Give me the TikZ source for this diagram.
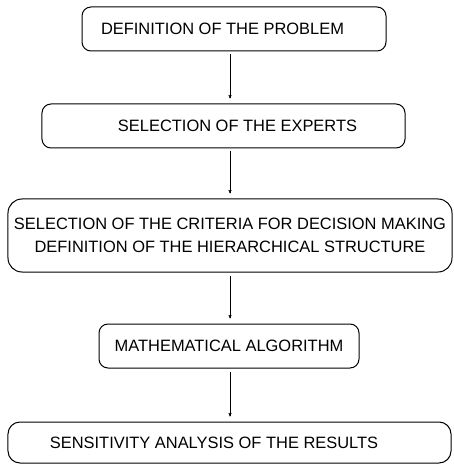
\documentclass[tikz,border=0pt]{standalone}
\usepackage{fontspec}
\setmainfont{Liberation Sans}
\usepackage{tikz}
\usetikzlibrary{arrows}

\begin{document}
\begin{tikzpicture}[x=1bp,y=-1bp,->,>=stealth',shorten >=5bp,shorten <=3bp,
  thin,box node/.style={draw,line width=1bp,rounded corners=9bp,inner sep=0pt,
    align=center,font=\fontsize{16.5}{23}\selectfont}]

    \useasboundingbox (0, 0) rectangle (454, 465);

    \node[box node,minimum width=304bp,minimum height=44bp] (problem) at (234, 29) {\hspace*{-23bp}DEFINITION OF THE PROBLEM};

    \node[box node,minimum width=363bp,minimum height=44bp] (experts) at (223.5, 126) {SELECTION OF THE EXPERTS\hspace*{-28bp}};

    \node[box node,rounded corners=14bp,minimum width=444bp,minimum height=73bp] (criteria) at (230, 235.5)
      {SELECTION OF THE CRITERIA FOR DECISION MAKING\\DEFINITION OF THE HIERARCHICAL STRUCTURE};

    \node[box node,minimum width=260bp,minimum height=44bp] (algorithm) at (229, 346) {MATHEMATICAL ALGORITHM};

    \node[box node,rounded corners=12bp,minimum width=443bp,minimum height=41bp] (sensitivity) at (229.5, 442.5) {\hspace*{-31bp}SENSITIVITY ANALYSIS OF THE RESULTS};

    \draw (problem.south -| criteria) -- (experts.north -| criteria);
    \draw (experts.south -| criteria) -- (criteria.north);
    \draw (criteria.south) -- (algorithm.north -| criteria);
    \draw (algorithm.south -| criteria) -- (sensitivity.north -| criteria);
\end{tikzpicture}
\end{document}
